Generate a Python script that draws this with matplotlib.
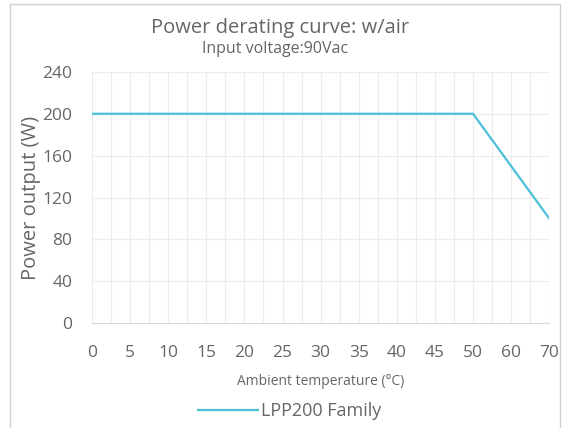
import matplotlib
matplotlib.use('Agg')
import matplotlib.pyplot as plt
from matplotlib.patches import Rectangle
from matplotlib.ticker import MultipleLocator

temps = ['0', '5', '10', '15', '20', '25', '30', '35', '40', '45', '50', '60', '70']
power = [200, 200, 200, 200, 200, 200, 200, 200, 200, 200, 200, 150, 100]
yticks = [0, 40, 80, 120, 160, 200, 240]

plt.rcParams['font.family'] = ['Open Sans', 'DejaVu Sans']
text_color = '#666666'
line_color = '#4cc0d8'
grid_color = '#ececec'

fig = plt.figure(figsize=(5.68, 4.28), dpi=100)
ax = fig.add_axes([0.162, 0.245, 0.805, 0.587])

x = list(range(len(temps)))
ax.plot(x, power, color=line_color, lw=1.6, label='LPP200 Family')

ax.set_xlim(0, len(temps) - 1)
ax.set_ylim(0, 240)
ax.set_xticks(x)
ax.set_xticklabels(temps)
ax.set_yticks(yticks)
ax.xaxis.set_minor_locator(MultipleLocator(0.5))
ax.grid(True, which='both', axis='x', color=grid_color, lw=0.8)
ax.grid(True, which='major', axis='y', color=grid_color, lw=0.8)
ax.set_axisbelow(True)
for s in ['top', 'right', 'left']:
    ax.spines[s].set_visible(False)
ax.spines['bottom'].set_color('#d9d9d9')
ax.tick_params(which='both', length=0, colors=text_color, labelsize=12.5)
ax.tick_params(axis='x', pad=16)
ax.tick_params(axis='y', pad=14)

ax.set_xlabel('Ambient temperature (\u00b0C)', color=text_color, fontsize=10, labelpad=9)
ax.set_ylabel('Power output (W)', color=text_color, fontsize=14.5, labelpad=1)

fig.text(0.493, 0.935, 'Power derating curve: w/air', ha='center', va='center',
         color=text_color, fontsize=14.5)
fig.text(0.485, 0.886, 'Input voltage:90Vac', ha='center', va='center',
         color=text_color, fontsize=11.5)

fig.legend(loc='center', bbox_to_anchor=(0.51, 0.04), frameon=False,
           fontsize=13, labelcolor=text_color, handlelength=3.3, handletextpad=0.2)

fig.patches.append(Rectangle((0.018, -0.05), 0.968, 1.04, transform=fig.transFigure,
                             fill=False, edgecolor='#d0d0d0', lw=1))

plt.savefig('out.png', dpi=100)
